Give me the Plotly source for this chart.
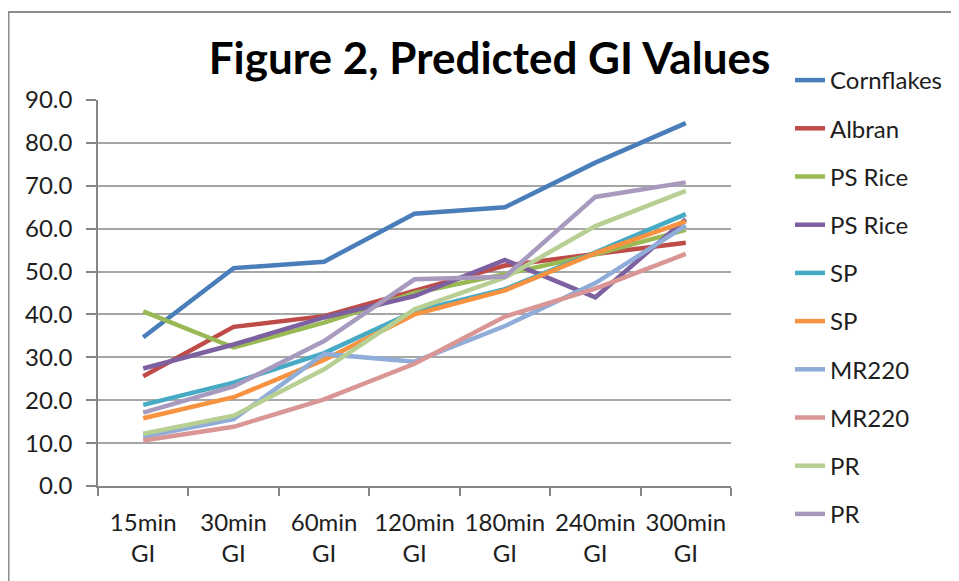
import plotly.graph_objects as go

categories = ["15min<br>GI", "30min<br>GI", "60min<br>GI", "120min<br>GI",
              "180min<br>GI", "240min<br>GI", "300min<br>GI"]

series_names = ["Cornflakes", "Albran", "PS Rice", "PS Rice", "SP", "SP",
                "MR220", "MR220", "PR", "PR"]

cornflakes = [34.7, 50.8, 52.3, 63.5, 65.0, 75.4, 84.6]
albran     = [25.6, 37.1, 39.6, 45.5, 51.4, 54.1, 56.7]
ps_rice_a  = [40.7, 32.3, 38.1, 45.0, 49.4, 54.0, 59.7]
ps_rice_b  = [27.4, 33.0, 39.3, 44.3, 52.7, 44.0, 62.2]
sp_a       = [18.9, 24.1, 31.0, 40.7, 45.9, 54.5, 63.4]
sp_b       = [15.8, 20.7, 29.4, 40.0, 45.6, 54.3, 61.7]
mr220_a    = [11.5, 15.6, 30.8, 29.0, 37.3, 47.3, 60.7]
mr220_b    = [10.6, 13.8, 20.2, 28.5, 39.5, 46.0, 54.1]
pr_a       = [12.2, 16.4, 27.2, 41.2, 48.6, 60.6, 68.8]
pr_b       = [17.1, 23.2, 33.8, 48.2, 48.8, 67.4, 70.8]

values = [cornflakes, albran, ps_rice_a, ps_rice_b, sp_a, sp_b,
          mr220_a, mr220_b, pr_a, pr_b]

colors = ["#4A7EBB", "#BE4B48", "#98B954", "#7D60A0", "#46AAC5", "#F69240",
          "#8FADD8", "#D99694", "#B7CF92", "#A89ABF"]

y_ticks = [0, 10, 20, 30, 40, 50, 60, 70, 80, 90]

FONT = "Lato"

fig = go.Figure()
for i, (name, vals, col) in enumerate(zip(series_names, values, colors)):
    fig.add_trace(go.Scatter(
        x=categories, y=vals, name=name, mode="lines",
        line=dict(color=col, width=4.5),
        legendgroup=f"g{i}",
    ))

# the page body adds an 8px offset; lay out in screen coordinates minus 8
OFF = 8
W, H = 959 - OFF, 581 - OFF
plot_left, plot_right, plot_top, plot_bottom = 98 - OFF, 731 - OFF, 100 - OFF, 486 - OFF
L, R, T, B = plot_left, W - plot_right, plot_top, H - plot_bottom
pw = W - L - R
ph = H - T - B

def px_x(x):
    return (x - OFF - L) / pw

def px_y(y):
    return (H - B - (y - OFF)) / ph

fig.update_layout(
    width=W, height=H,
    margin=dict(l=L, r=R, t=T, b=B),
    paper_bgcolor="white",
    plot_bgcolor="white",
    font=dict(family=FONT, color="#1E1E1E", size=24),
    title=dict(
        text="<b>Figure 2, Predicted GI Values</b>",
        font=dict(family=FONT, size=44, color="#000000"),
        x=(489.5 - OFF) / W, xanchor="center", xref="container",
        y=1 - (59 - OFF) / H, yanchor="middle", yref="container",
    ),
    showlegend=True,
    legend=dict(
        x=px_x(790), y=px_y(58), xanchor="left", yanchor="top",
        font=dict(family=FONT, size=24, color="#1E1E1E"),
        tracegroupgap=14,
        bgcolor="rgba(0,0,0,0)",
        maxheight=560,
    ),
    xaxis=dict(
        type="category",
        range=[-0.5, 6.5],
        showgrid=False,
        showline=True, linecolor="#868686", linewidth=1.5,
        ticks="outside", tickson="boundaries", ticklen=8, tickcolor="#868686",
        tickwidth=1.5,
        tickfont=dict(family=FONT, size=24, color="#1E1E1E"),
        ticklabelstandoff=14,
    ),
    yaxis=dict(
        range=[0, 90],
        tickvals=y_ticks,
        tickformat=".1f",
        showgrid=True, gridcolor="#A6A6A6", gridwidth=1.5,
        showline=True, linecolor="#868686", linewidth=1.5,
        ticks="outside", ticklen=10, tickcolor="#868686", tickwidth=1.5,
        tickfont=dict(family=FONT, size=24, color="#1E1E1E"),
        ticklabelstandoff=9,
        zeroline=False,
    ),
    shapes=[dict(
        type="rect", xref="paper", yref="paper",
        x0=px_x(8.5), x1=px_x(1200), y0=px_y(900), y1=px_y(12),
        line=dict(color="#8C8C8C", width=2),
        fillcolor="rgba(0,0,0,0)", layer="below",
    )],
)

fig.write_html("out.html")
